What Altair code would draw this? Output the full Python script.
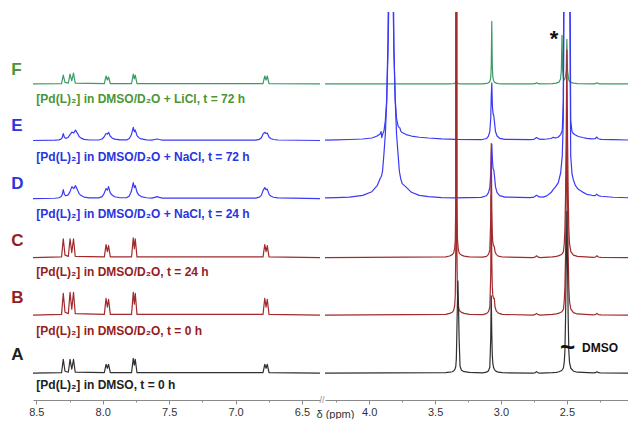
import altair as alt
import pandas as pd

FONT = "Liberation Sans"

# ---------------- spectra: drawing order (bottom layer first) ----------------
DRAW_ORDER = ["F", "E", "D", "C", "B", "A"]
OFFSETS = {"A": 27.0, "B": 85.5, "C": 143.5, "D": 203.0, "E": 261.5, "F": 318.5}
LINE_COLORS = {"A": "#303030", "B": "#a02a2c", "C": "#a02a2c",
               "D": "#3a3af6", "E": "#3a3af6", "F": "#3c9b64"}
TEXT_COLORS = {"A": "#222222", "B": "#951d1d", "C": "#951d1d",
               "D": "#2a35e0", "E": "#2a35e0", "F": "#4c9636"}

# ---------------- left window (aromatic region) ----------------
L_NARROW_PPM = [8.525, 8.310, 8.297, 8.284, 8.259, 8.246, 8.233, 8.220, 8.207,
                7.988, 7.975, 7.965, 7.956, 7.943, 7.783, 7.770, 7.762, 7.755, 7.742,
                6.793, 6.780, 6.770, 6.761, 6.748, 6.364]
L_A = [0, 0.5, 14, 2, 1, 14, 4, 14, 1, 0.5, 9, 5, 9, 0.5, 0.5, 15, 8, 14, 0.5, 0.5, 9, 5, 9, 0.5, 0]
L_B = [0, 0.8, 22, 3, 1.5, 23, 6, 23, 1.5, 0.8, 17, 8, 16, 0.8, 0.8, 23, 11, 22, 0.8, 0.8, 17, 8, 16, 0.8, 0]
L_C = [0, 0.7, 19, 2.5, 1.3, 19, 5, 19, 1.3, 0.7, 13, 6, 12, 0.7, 0.7, 20, 9, 19, 0.7, 0.7, 13, 6, 12, 0.7, 0]
L_F = [0, 0.4, 9, 1.5, 0.8, 10, 3, 11, 0.8, 0.4, 8, 4, 7, 0.4, 0.4, 10, 5, 9, 0.4, 0.4, 8, 4, 8, 0.4, 0]

L_BROAD_PPM = [8.525, 8.36, 8.33, 8.315, 8.305, 8.297, 8.288, 8.278, 8.262, 8.246, 8.232, 8.218,
               8.205, 8.191, 8.178, 8.163, 8.14, 8.10,
               8.03, 8.005, 7.99, 7.975, 7.965, 7.956, 7.944, 7.93, 7.91, 7.87,
               7.82, 7.80, 7.785, 7.770, 7.762, 7.755, 7.742, 7.728, 7.71, 7.67,
               7.63, 7.61, 7.591, 7.575, 7.55,
               6.85, 6.82, 6.805, 6.793, 6.780, 6.770, 6.761, 6.748, 6.735, 6.715, 6.68, 6.364]
L_D = [0, 0.3, 0.8, 1.8, 4, 9, 4, 2.8, 3.5, 7, 12, 10, 13, 9, 5, 3, 1.5, 0.6,
       0.7, 2, 5, 10, 8.5, 12, 6, 3.5, 1.8, 0.8,
       0.8, 2.5, 7, 16, 11, 13, 6.5, 3.5, 2, 0.8,
       0.5, 1.2, 2, 1.2, 0.5,
       0.5, 1.5, 3.5, 8, 11, 9, 9.5, 4.5, 2.5, 1.3, 0.6, 0]
L_E = [0, 0.3, 0.6, 1.4, 3, 7, 3, 2.2, 3, 6, 8.5, 7.5, 10.5, 7.5, 4, 2.4, 1.2, 0.5,
       0.5, 1.5, 3.5, 7, 6.5, 8.3, 4.5, 2.6, 1.4, 0.6,
       0.6, 2, 5.5, 13.3, 9, 10.5, 5, 2.8, 1.6, 0.6,
       0.4, 1, 1.5, 1, 0.4,
       0.4, 1.2, 2.8, 6.5, 8.3, 7, 7.5, 3.5, 2, 1, 0.5, 0]

# ---------------- right window (aliphatic / solvent region) ----------------
R_NARROW_PPM = [4.336, 3.42, 3.39, 3.37, 3.36, 3.352, 3.347, 3.343, 3.339, 3.335, 3.331, 3.327,
                3.323, 3.318, 3.311, 3.30, 3.28, 3.24,
                3.14, 3.11, 3.095, 3.085, 3.078, 3.074, 3.070, 3.066, 3.062, 3.057, 3.051,
                3.045, 3.035, 3.02, 2.99,
                2.76, 2.742, 2.73, 2.718, 2.70,
                2.61, 2.58, 2.56, 2.548, 2.542, 2.537, 2.532, 2.526, 2.52, 2.515, 2.51, 2.505,
                2.50, 2.495, 2.49, 2.485, 2.48, 2.47, 2.45, 2.42,
                2.30, 2.283, 2.272, 2.261, 2.24, 2.036]
R_A = [0, 0.5, 1, 1.5, 2.2, 3.5, 5, 7, 15, 42, 70, 93, 70, 35, 7, 3, 1.5, 0.8,
       0.3, 1, 2.5, 6, 35, 78, 40, 18, 10, 6, 4, 2.8, 1.8, 1, 0.5,
       0, 0.4, 1.6, 0.4, 0,
       0.5, 0.9, 1.5, 2.2, 2.6, 3, 4, 5.5, 11, 22, 55, 110, 163, 110, 55, 22, 11, 5, 2, 1,
       0.3, 0.5, 1.6, 0.5, 0.2, 0]
R_B = [0, 0.8, 1.8, 3, 4.5, 9, 20, 70, 1400, 70, 22, 13, 8, 5.5, 4, 2.8, 1.8, 0.8,
       0.5, 1.5, 3.5, 8, 40, 120, 55, 28, 20, 17, 17, 8, 4, 2, 0.8,
       0, 0.5, 1.8, 0.5, 0,
       0.8, 1.3, 2, 2.7, 3.2, 3.7, 4.5, 6, 14, 28, 60, 120, 200, 120, 60, 28, 14, 6, 2.5, 1.2,
       0.3, 0.6, 1.8, 0.6, 0.2, 0]
R_C = [0, 0.7, 1.6, 3, 4.5, 9, 18, 60, 1400, 60, 20, 12, 7.5, 5, 3.5, 2.5, 1.5, 0.7,
       0.5, 1.3, 3.2, 7.5, 38, 115, 50, 24, 15, 12, 11, 6, 3, 1.5, 0.6,
       0, 0.5, 1.8, 0.5, 0,
       0.8, 1.3, 2, 2.7, 3.2, 3.7, 4.5, 6, 14, 28, 62, 125, 209, 125, 62, 28, 14, 6, 2.5, 1.2,
       0.3, 0.6, 1.8, 0.6, 0.2, 0]
R_F = [0, 0, 0, 0.2, 0.3, 0.5, 0.8, 1.5, 3, 1.5, 0.8, 0.5, 0.3, 0.2, 0.1, 0, 0, 0,
       0, 0.5, 1.2, 2.5, 6, 18, 63, 18, 7, 3.5, 2, 1.3, 0.8, 0.4, 0,
       0, 0.3, 1.3, 0.3, 0,
       0.3, 0.8, 1.8, 5, 14, 49, 14, 6, 4, 5, 8, 14, 45, 14, 8, 4, 2.5, 1.5, 0.8, 0.4,
       0, 0.3, 1.2, 0.3, 0, 0]

R_BROAD_PPM = [4.336, 4.25, 4.15, 4.05, 3.98, 3.94, 3.918, 3.91, 3.905, 3.899, 3.888, 3.878,
               3.868, 3.858, 3.849, 3.842, 3.835, 3.828, 3.821, 3.813, 3.803, 3.793, 3.781,
               3.772, 3.767, 3.761, 3.75, 3.72, 3.68, 3.62, 3.55, 3.45, 3.35,
               3.15, 3.11, 3.095, 3.085, 3.078, 3.074, 3.070, 3.065, 3.06, 3.055, 3.049,
               3.042, 3.03, 3.01, 2.97,
               2.78, 2.75, 2.73, 2.71, 2.68,
               2.653, 2.62, 2.603, 2.585, 2.565, 2.547, 2.535, 2.527, 2.52, 2.513, 2.507,
               2.50, 2.493, 2.487, 2.48, 2.471, 2.461, 2.451, 2.435, 2.413, 2.38, 2.349,
               2.31, 2.285, 2.273, 2.262, 2.24, 2.15, 2.036]
R_D = [0.6, 0.9, 1.5, 3.2, 6.9, 13, 20, 22, 24, 28, 46, 65, 96, 147, 218, 275, 300, 270,
       212, 152, 98, 65, 44, 28, 24, 20, 15, 11.5, 6.3, 3.2, 2.0, 1.0, 0.7,
       1.2, 2.8, 6, 11, 25, 45, 55, 38, 30, 29, 22, 12, 6, 3, 1.5,
       1.0, 1.5, 3.3, 1.6, 1.4,
       2.7, 6, 9.3, 12, 16, 26, 43, 80, 250, 600, 1000, 1500, 1000, 600, 250, 43, 25, 19,
       13, 9.3, 6.5, 4.3, 3.3, 3, 4.5, 3, 2.3, 1.3, 0.8]
R_E = [0.4, 0.6, 1.0, 1.5, 2.5, 4.5, 6.5, 9, 3, 6, 10, 20, 40, 100, 250, 450, 600, 450,
       250, 90, 42, 22, 14.5, 13, 12.5, 9.5, 8, 6, 4.5, 3.3, 2.5, 1.7, 1.2,
       0.8, 2, 4.5, 9, 22, 45, 58, 34, 27, 25, 18, 9, 4.5, 2.2, 1.2,
       0.8, 1.2, 3, 1.3, 1.2,
       1.5, 2, 3.2, 2.5, 3.5, 6, 10, 40, 300, 800, 1500, 2000, 1500, 800, 300, 20, 9, 7,
       5.5, 4, 3, 2.2, 1.7, 1.8, 3.5, 1.8, 1.2, 0.8, 0.5]

LEFT_SPECTRA = {"A": (L_NARROW_PPM, L_A), "B": (L_NARROW_PPM, L_B), "C": (L_NARROW_PPM, L_C),
                "D": (L_BROAD_PPM, L_D), "E": (L_BROAD_PPM, L_E), "F": (L_NARROW_PPM, L_F)}
RIGHT_SPECTRA = {"A": (R_NARROW_PPM, R_A), "B": (R_NARROW_PPM, R_B), "C": (R_NARROW_PPM, R_C),
                 "D": (R_BROAD_PPM, R_D), "E": (R_BROAD_PPM, R_E), "F": (R_NARROW_PPM, R_F)}

# ---------------- annotations ----------------
LETTERS = ["A", "B", "C", "D", "E", "F"]
LETTER_PPM = 8.688
LETTER_LEVEL = [45, 103, 160, 218, 276, 333]
CONDITIONS = ["[Pd(L)\u2082] in DMSO, t = 0 h",
              "[Pd(L)\u2082] in DMSO/D\u2082O, t = 0 h",
              "[Pd(L)\u2082] in DMSO/D\u2082O, t = 24 h",
              "[Pd(L)\u2082] in DMSO/D\u2082O + NaCl, t = 24 h",
              "[Pd(L)\u2082] in DMSO/D\u2082O + NaCl, t = 72 h",
              "[Pd(L)\u2082] in DMSO/D\u2082O + LiCl, t = 72 h"]
CONDITION_PPM = 8.50
CONDITION_LEVEL = [15, 70, 129, 187, 245, 303]
STAR = {"ppm": 2.598, "level": 356.4, "text": "*"}
TILDE = {"ppm": 2.495, "level": 52, "text": "~"}
DMSO_LABEL = {"ppm": 2.385, "level": 52, "text": "DMSO"}

LEFT_DOMAIN = [6.364, 8.525]
RIGHT_DOMAIN = [2.036, 4.336]
LEFT_TICKS = [8.5, 8.25, 8.0, 7.75, 7.5, 7.25, 7.0, 6.75, 6.5]
RIGHT_TICKS = [4.25, 4.0, 3.75, 3.5, 3.25, 3.0, 2.75, 2.5, 2.25]

LEVEL_MAX = 391
PLOT_H = 388
LEFT_W = 287
RIGHT_W = 303

MAJOR = "abs(datum.value * 2 - round(datum.value * 2)) < 0.001"


def make_axis(values, **kw):
    return alt.Axis(values=values, grid=False, domainColor="#8a8a8a", tickColor="#8a8a8a",
                    domainWidth=1, tickWidth=1,
                    tickSize={"condition": {"test": MAJOR, "value": 4}, "value": 2},
                    labelExpr=MAJOR + " ? format(datum.value, '.1f') : ''",
                    labelFont=FONT, labelFontSize=11, labelColor="#333333",
                    labelPadding=2, labelFlush=False, labelOverlap=False, **kw)


y_enc = alt.Y("level:Q", scale=alt.Scale(domain=[0, LEVEL_MAX], nice=False, zero=False), axis=None)

x_left = alt.X("ppm:Q",
               scale=alt.Scale(domain=LEFT_DOMAIN, reverse=True, nice=False, zero=False),
               axis=make_axis(LEFT_TICKS, title=None))
x_right = alt.X("ppm:Q",
                scale=alt.Scale(domain=RIGHT_DOMAIN, reverse=True, nice=False, zero=False),
                axis=make_axis(RIGHT_TICKS, title="\u03b4 (ppm)", titleX=-9, titleY=14,
                               titleAlign="left", titleBaseline="middle", titleAngle=0,
                               titleFont=FONT, titleFontSize=11, titleFontWeight="normal",
                               titleColor="#333333"))


def spectrum_layers(spectra, x_enc):
    layers = []
    for key in DRAW_ORDER:
        ppm, vals = spectra[key]
        df = pd.DataFrame({"ppm": ppm, "level": [OFFSETS[key] + v for v in vals]})
        layers.append(
            alt.Chart(df).mark_line(color=LINE_COLORS[key], strokeWidth=1.2, clip=True,
                                    strokeJoin="round")
            .encode(x=x_enc, y=y_enc)
        )
    return layers


text_color = alt.Color("spec:N", scale=alt.Scale(domain=LETTERS,
                                                 range=[TEXT_COLORS[k] for k in LETTERS]),
                       legend=None)

letters_df = pd.DataFrame({"ppm": [LETTER_PPM] * len(LETTERS), "level": LETTER_LEVEL,
                           "text": LETTERS, "spec": LETTERS})
cond_df = pd.DataFrame({"ppm": [CONDITION_PPM] * len(CONDITIONS), "level": CONDITION_LEVEL,
                        "text": CONDITIONS, "spec": LETTERS})

letters_layer = alt.Chart(letters_df).mark_text(
    font=FONT, fontSize=17, fontWeight="bold", align="left", baseline="middle"
).encode(x=x_left, y=y_enc, text="text:N", color=text_color)

cond_layer = alt.Chart(cond_df).mark_text(
    font=FONT, fontSize=12, fontWeight="bold", align="left", baseline="middle"
).encode(x=x_left, y=y_enc, text="text:N", color=text_color)

left = alt.layer(*spectrum_layers(LEFT_SPECTRA, x_left), letters_layer, cond_layer).properties(
    width=LEFT_W, height=PLOT_H)

star_layer = alt.Chart(pd.DataFrame([STAR])).mark_text(
    font=FONT, fontSize=22, fontWeight="bold", align="center", baseline="alphabetic",
    color="#111111").encode(x=x_right, y=y_enc, text="text:N")
tilde_layer = alt.Chart(pd.DataFrame([TILDE])).mark_text(
    font=FONT, fontSize=26, fontWeight="bold", align="center", baseline="middle",
    color="#111111").encode(x=x_right, y=y_enc, text="text:N")
dmso_layer = alt.Chart(pd.DataFrame([DMSO_LABEL])).mark_text(
    font=FONT, fontSize=12, fontWeight="bold", align="left", baseline="middle",
    color="#111111").encode(x=x_right, y=y_enc, text="text:N")
break_layer = alt.Chart(pd.DataFrame({"t": ["//"]})).mark_text(
    font=FONT, fontSize=9, align="center", baseline="middle", color="#8a8a8a"
).encode(x=alt.value(-3), y=alt.value(PLOT_H), text="t:N")

right = alt.layer(*spectrum_layers(RIGHT_SPECTRA, x_right), star_layer, tilde_layer,
                  dmso_layer, break_layer).properties(width=RIGHT_W, height=PLOT_H)

chart = alt.hconcat(left, right, spacing=5, bounds="flush").properties(
    padding={"left": 3, "top": 4, "right": 0, "bottom": 0},
    background="white",
).configure_view(stroke=None)

chart.save("out.html", embed_options={"renderer": "svg", "actions": False})
